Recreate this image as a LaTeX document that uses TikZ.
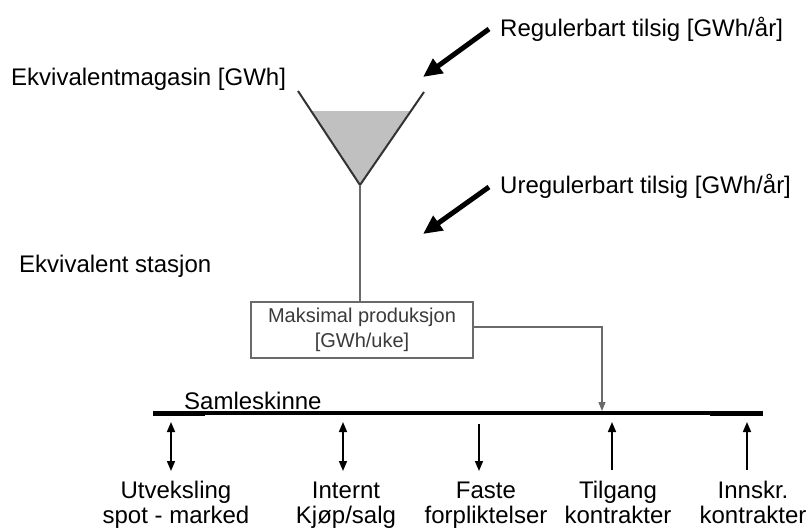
\documentclass[tikz,border=0pt]{standalone}
\usepackage{fontspec}
\setmainfont{Liberation Sans}
\usetikzlibrary{arrows.meta}
\definecolor{wallgray}{HTML}{333333}
\definecolor{fillgray}{HTML}{C0C0C0}
\definecolor{linegray}{HTML}{6A6A6A}
\definecolor{boxtext}{HTML}{3A3A3A}
\begin{document}
\begin{tikzpicture}[x=1pt,y=-1pt,
  lbl/.style={font=\fontsize{24}{25}\selectfont, inner sep=0pt, anchor=base west},
  botlbl/.style={font=\fontsize{24}{25}\selectfont, inner sep=0pt, align=center, anchor=base},
  inflow/.style={line width=5pt, -{Triangle[length=19pt,width=17pt]}},
  flow/.style={line width=1.6pt, {Triangle[length=10pt,width=8pt]}-{Triangle[length=10pt,width=8pt]}},
  flowdown/.style={line width=1.6pt, -{Triangle[length=10pt,width=8pt]}},
  flowup/.style={line width=1.6pt, {Triangle[length=10pt,width=8pt]}-},
  prodbox/.style={draw=linegray, line width=1.4pt, minimum width=222pt, minimum height=56pt,
    inner sep=0pt, align=center, text=boxtext, font=\fontsize{20}{25}\selectfont}
]
\useasboundingbox (0,0) rectangle (812,530);

% reservoir (funnel) with its water level
\coordinate (wl) at (298,91);
\coordinate (wr) at (424,92);
\coordinate (wv) at (360,185);
\fill[fillgray] (311,111) -- (411,111) -- (wv) -- cycle;
\draw[wallgray, line width=2pt] (wl) -- (wv) -- (wr);

% labels
\node[lbl] (mag) at (11,85) {Ekvivalentmagasin [GWh]};
\node[lbl] (stasjon) at (19,272) {Ekvivalent stasjon};
\node[lbl] (reg) at (500,36) {Regulerbart tilsig [GWh/år]};
\node[lbl] (ureg) at (500,193) {Uregulerbart tilsig [GWh/år]};

% inflow arrows
\coordinate (regtail) at (489,29);
\coordinate (reghead) at (423,77);
\coordinate (uregtail) at (489,187);
\coordinate (ureghead) at (423,234);
\draw[inflow] (regtail) -- (reghead);
\draw[inflow] (uregtail) -- (ureghead);

% production box
\node[prodbox] (prod) at (362,330) {Maksimal produksjon\\\relax [GWh/uke]};
\draw[linegray, line width=1.4pt] (wv) -- (prod.north -| wv);

% busbar
\coordinate (busW) at (153,413);
\coordinate (busE) at (763,413);
\draw[line width=4pt] (busW) -- (busE);
\draw[line width=5pt] (busW) -- (205,413);
\draw[line width=5pt] (710,413) -- (busE);
\node[lbl] (samle) at (184,409) {Samleskinne};

% production feed into the busbar
\coordinate (feed) at (602,411);
\draw[linegray, line width=1.3pt, -{Triangle[length=9pt,width=7pt]}]
  (prod.east |- 0,327) -- (feed |- 0,327) -- (feed);

% exchanges with the busbar
\coordinate (a1t) at (171,422); \coordinate (a1b) at (171,471);
\coordinate (a2t) at (343,422); \coordinate (a2b) at (343,471);
\coordinate (a3t) at (479,424); \coordinate (a3b) at (479,471);
\coordinate (a4t) at (612,422); \coordinate (a4b) at (612,470);
\coordinate (a5t) at (747,422); \coordinate (a5b) at (747,470);
\draw[flow] (a1t) -- (a1b);
\draw[flow] (a2t) -- (a2b);
\draw[flowdown] (a3t) -- (a3b);
\draw[flowup] (a4t) -- (a4b);
\draw[flowup] (a5t) -- (a5b);

\node[botlbl] (utv) at (176,523) {Utveksling\\spot - marked};
\node[botlbl] (int) at (346,523) {Internt\\Kjøp/salg};
\node[botlbl] (fast) at (486,523) {Faste\\forpliktelser};
\node[botlbl] (tilg) at (618,523) {Tilgang\\kontrakter};
\node[botlbl] (innskr) at (753,523) {Innskr.\\kontrakter};
\end{tikzpicture}
\end{document}
